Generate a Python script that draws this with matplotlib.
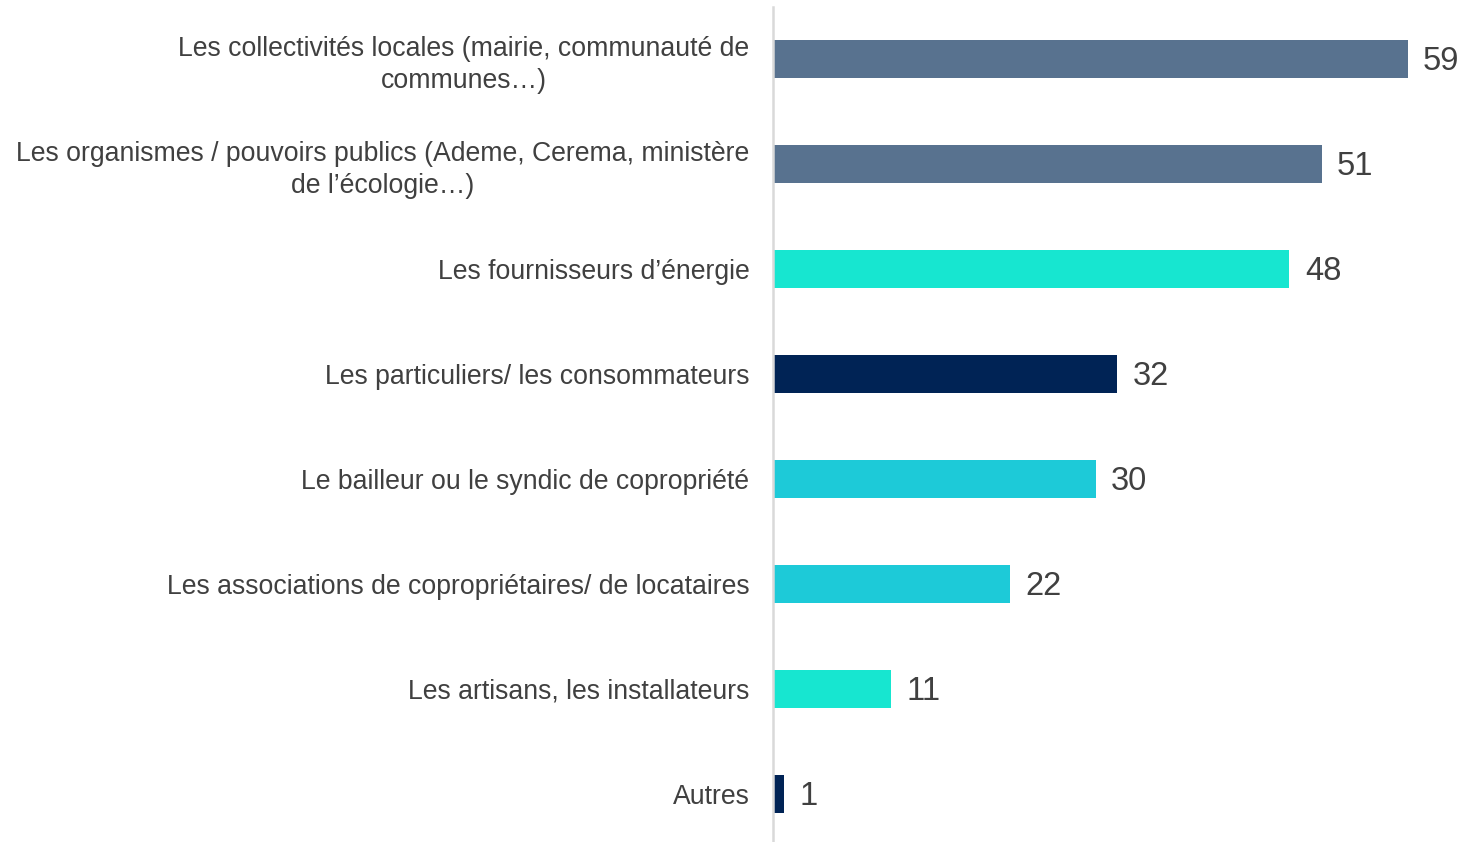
import matplotlib.pyplot as plt

plt.rcParams['font.family'] = ['Liberation Sans', 'DejaVu Sans']

categories = [
    "Les collectivités locales (mairie, communauté de\ncommunes…)",
    "Les organismes / pouvoirs publics (Ademe, Cerema, ministère\nde l’écologie…)",
    "Les fournisseurs d’énergie",
    "Les particuliers/ les consommateurs",
    "Le bailleur ou le syndic de copropriété",
    "Les associations de copropriétaires/ de locataires",
    "Les artisans, les installateurs",
    "Autres",
]
values = [59, 51, 48, 32, 30, 22, 11, 1]
colors = ["#58728F", "#58728F", "#17E6D0", "#002355",
          "#1DCAD8", "#1DCAD8", "#17E6D0", "#002355"]

fig = plt.figure(figsize=(14.65, 8.42), dpi=100)
ax = fig.add_axes([773 / 1465, 0, 1 - 773 / 1465, (842 - 6.5) / 842])

y = list(range(len(values)))
ax.barh(y, values, height=0.36, color=colors)
ax.set_ylim(7.5 - 4.5 / 105, -0.5)
ax.set_xlim(0, (1465 - 773) / 10.76)

for yi, v in zip(y, values):
    ax.annotate(str(v), (v, yi), xytext=(11, -1.5), textcoords='offset points',
                ha='left', va='center', fontsize=23.5, color='#404040')

ax.set_yticks(y)
ax.set_yticklabels(categories, fontsize=19.2, color='#404040',
                   multialignment='center', linespacing=1.28)
ax.tick_params(axis='y', length=0, pad=17)
ax.set_xticks([])

for s in ['top', 'right', 'bottom']:
    ax.spines[s].set_visible(False)
ax.spines['left'].set_color('#D9D9D9')
ax.spines['left'].set_linewidth(1.8)

fig.savefig('out.png', dpi=100)
